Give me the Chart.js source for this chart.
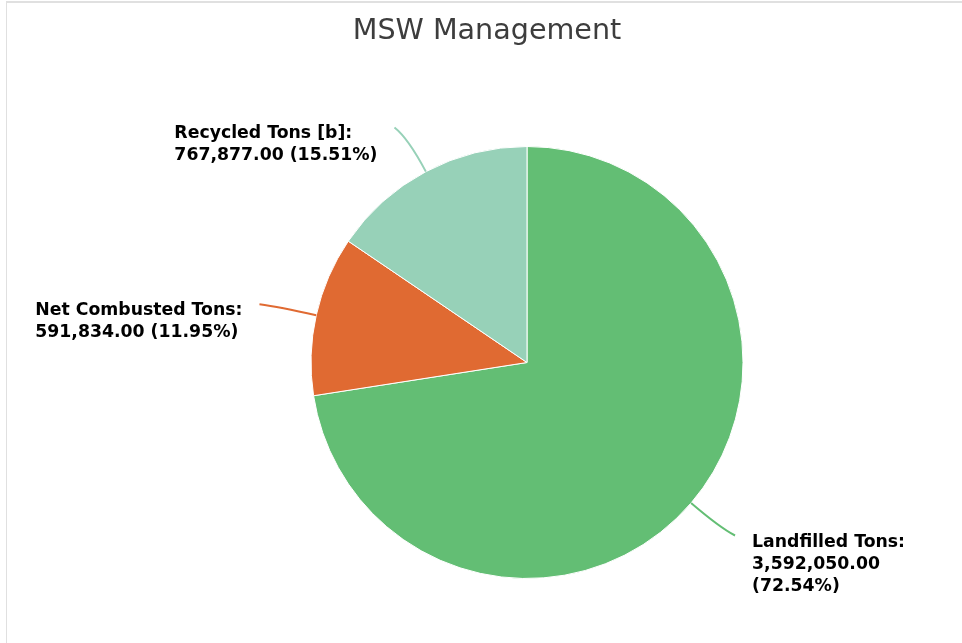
<!DOCTYPE html>
<html>
<head>
<meta charset="utf-8">
<script src="https://cdn.jsdelivr.net/npm/chart.js@4"></script>
<style>
  html, body { margin: 0; padding: 0; background: #fff; }
  #frame {
    position: absolute; left: 6px; top: 1px; width: 956px; height: 642px;
    border-top: 2px solid #e0e0e0; border-left: 1px solid #e0e0e0;
  }
  #mswChart { position: absolute; left: 0; top: 0; }
</style>
</head>
<body>
<div id="frame"></div>
<canvas id="mswChart" width="962" height="643"></canvas>
<script>
// chart data
const chartTitle = 'MSW Management';
const categories = ['Landfilled Tons', 'Net Combusted Tons', 'Recycled Tons [b]'];
const tons = [3592050, 591834, 767877];
const sliceColors = ['#63be74', '#e06a32', '#97d1b8'];

const total = tons.reduce((a, b) => a + b, 0);
const fmt = v => v.toLocaleString('en-US', { minimumFractionDigits: 2, maximumFractionDigits: 2 });

// draws the title and the outside labels with curved connectors
const outLabels = {
    id: 'outLabels',
    afterDatasetsDraw(chart) {
        const ctx = chart.ctx;
        const meta = chart.getDatasetMeta(0);
        ctx.save();

        // title
        ctx.font = '28.6px "DejaVu Sans"';
        ctx.fillStyle = '#3d3d3d';
        ctx.textAlign = 'center';
        ctx.textBaseline = 'middle';
        ctx.fillText(chartTitle, 487, 32);

        ctx.font = 'bold 17.3px "DejaVu Sans"';
        ctx.textAlign = 'left';
        ctx.textBaseline = 'alphabetic';

        meta.data.forEach((arc, i) => {
            const p = arc.getProps(['x', 'y', 'startAngle', 'endAngle', 'outerRadius'], true);
            const mid = (p.startAngle + p.endAngle) / 2;
            const right = Math.cos(mid) >= 0;
            const r = p.outerRadius;
            const start = { x: p.x + Math.cos(mid) * r, y: p.y + Math.sin(mid) * r };
            const end = { x: p.x + Math.cos(mid) * (r + 50) + (right ? 6 : -8), y: p.y + Math.sin(mid) * (r + 50) };
            const ctrl = { x: p.x + Math.cos(mid) * (r + 38), y: p.y + Math.sin(mid) * (r + 38) };

            ctx.strokeStyle = sliceColors[i];
            ctx.lineWidth = 2;
            ctx.beginPath();
            ctx.moveTo(start.x, start.y);
            ctx.quadraticCurveTo(ctrl.x, ctrl.y, end.x, end.y);
            ctx.stroke();

            // lines: name on its own line, the rest wrapped to the room left
            const pct = (tons[i] / total * 100).toFixed(2);
            const words = [fmt(tons[i]), '(' + pct + '%)'];
            const maxW = right ? chart.width - end.x - 22 : end.x - 22;
            const lines = [categories[i] + ':'];
            let cur = '';
            words.forEach(w => {
                const test = cur ? cur + ' ' + w : w;
                if (cur && ctx.measureText(test).width > maxW) {
                    lines.push(cur);
                    cur = w;
                } else {
                    cur = test;
                }
            });
            if (cur) lines.push(cur);

            const blockW = Math.max(...lines.map(l => ctx.measureText(l).width));
            const tx = right ? end.x + 17 : end.x - 17 - blockW;
            ctx.fillStyle = '#000';
            lines.forEach((l, k) => ctx.fillText(l, tx, end.y + 11 + k * 22));
        });
        ctx.restore();
    }
};

new Chart(document.getElementById('mswChart').getContext('2d'), {
    type: 'pie',
    data: {
        labels: categories,
        datasets: [{
            data: tons,
            backgroundColor: sliceColors,
            borderColor: '#ffffff',
            borderWidth: 1
        }]
    },
    options: {
        responsive: false,
        animation: false,
        layout: { padding: { top: 146, bottom: 64, left: 100, right: 8 } },
        plugins: {
            legend: { display: false },
            tooltip: { enabled: false },
            title: { display: false }
        },
        events: []
    },
    plugins: [outLabels]
});
</script>
</body>
</html>
